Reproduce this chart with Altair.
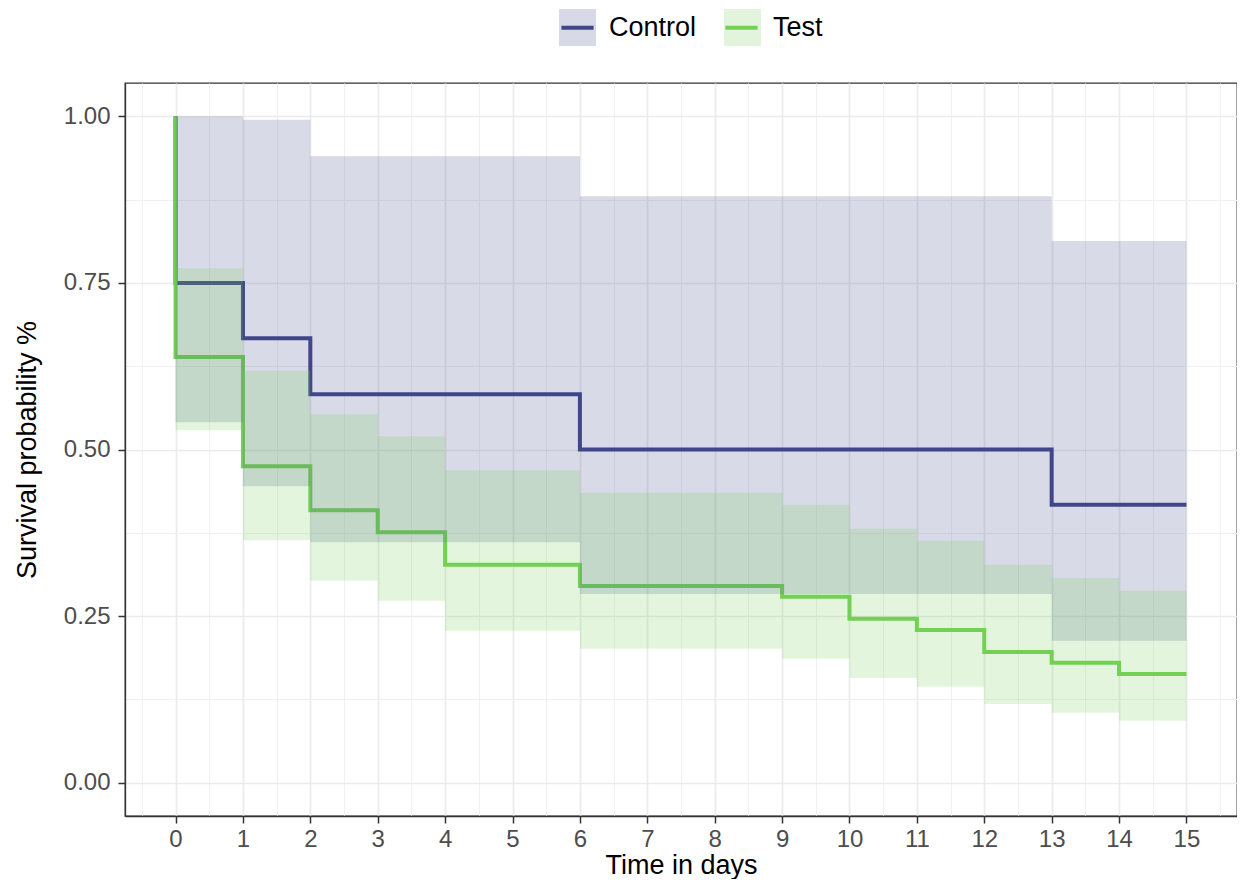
import altair as alt
import pandas as pd

# ---- data ----
groups = ["Control", "Test"]
colors = ["#404788", "#73D055"]

ctrl_time = [0, 0, 1, 2, 6, 13, 15]
ctrl_surv = [1.0, 0.75, 0.667, 0.583, 0.5, 0.417, 0.417]

test_time = [0, 0, 1, 2, 3, 4, 6, 9, 10, 11, 12, 13, 14, 15]
test_surv = [1.0, 0.639, 0.475, 0.409, 0.376, 0.327, 0.295, 0.279, 0.246,
             0.229, 0.196, 0.180, 0.163, 0.163]

ctrl_band_time = [0, 1, 2, 6, 13, 15]
ctrl_upper = [1.0, 0.995, 0.940, 0.880, 0.813, 0.813]
ctrl_lower = [0.541, 0.445, 0.361, 0.283, 0.213, 0.213]

test_band_time = [0, 1, 2, 3, 4, 6, 9, 10, 11, 12, 13, 14, 15]
test_upper = [0.772, 0.618, 0.553, 0.520, 0.469, 0.435, 0.417, 0.381, 0.363,
              0.327, 0.307, 0.288, 0.288]
test_lower = [0.529, 0.364, 0.303, 0.273, 0.228, 0.201, 0.186, 0.157, 0.144,
              0.118, 0.105, 0.093, 0.093]

x_values = [i / 2 for i in range(-1, 32)]   # major at integers, minor at halves
y_values = [i / 8 for i in range(0, 9)]     # major at quarters, minor at eighths

# ---- tables ----
line_rows = []
for g, ts, ss in [("Control", ctrl_time, ctrl_surv), ("Test", test_time, test_surv)]:
    for i, (t, s) in enumerate(zip(ts, ss)):
        line_rows.append({"group": g, "time": t, "surv": s, "idx": i})
lines_df = pd.DataFrame(line_rows)

band_rows = []
for g, ts, up, lo in [("Control", ctrl_band_time, ctrl_upper, ctrl_lower),
                      ("Test", test_band_time, test_upper, test_lower)]:
    for t, u, l in zip(ts, up, lo):
        band_rows.append({"band": g, "time": t, "upper": u, "lower": l})
bands_df = pd.DataFrame(band_rows)

FONT = "Liberation Sans"
LABEL_SIZE = 27
CONTROL_W = 3.223 * LABEL_SIZE   # advance width of "Control" in Liberation Sans

x_scale = alt.Scale(domain=[-0.75, 15.75], nice=False, zero=False)
y_scale = alt.Scale(domain=[-0.05, 1.05], nice=False, zero=False)

x_axis = alt.Axis(
    values=x_values,
    title="Time in days",
    labelExpr="datum.value % 1 === 0 ? format(datum.value, 'd') : ''",
    labelOverlap=False, labelFlush=False,
    labelFont=FONT, labelFontSize=24, labelColor="#4D4D4D", labelPadding=4,
    titleFont=FONT, titleFontSize=27, titleColor="black", titleFontWeight="normal",
    titleX=556, titleY=57, titleBaseline="alphabetic", titleAlign="center",
    tickSize=7, tickWidth=1.5,
    tickColor={"condition": {"test": "datum.value % 1 !== 0", "value": "transparent"}, "value": "#333333"},
    grid=True,
    gridColor={"condition": {"test": "datum.value % 1 !== 0", "value": "#F0F0F0"}, "value": "#EBEBEB"},
    gridWidth={"condition": {"test": "datum.value % 1 !== 0", "value": 1.0}, "value": 1.7},
    domain=True, domainColor="#333333", domainWidth=1.3,
)

y_axis = alt.Axis(
    values=y_values,
    title="Survival probability %",
    labelExpr="(datum.value * 4) % 1 === 0 ? format(datum.value, '.2f') : ''",
    labelOverlap=False, labelFlush=False,
    labelFont=FONT, labelFontSize=24, labelColor="#4D4D4D", labelPadding=8,
    titleFont=FONT, titleFontSize=27, titleColor="black", titleFontWeight="normal",
    titleX=-90, titleY=366.5, titleAngle=-90, titleBaseline="alphabetic", titleAlign="center",
    tickSize=7, tickWidth=1.5,
    tickColor={"condition": {"test": "(datum.value * 4) % 1 !== 0", "value": "transparent"}, "value": "#333333"},
    grid=True,
    gridColor={"condition": {"test": "(datum.value * 4) % 1 !== 0", "value": "#F0F0F0"}, "value": "#EBEBEB"},
    gridWidth={"condition": {"test": "(datum.value * 4) % 1 !== 0", "value": 1.0}, "value": 1.7},
    domain=True, domainColor="#333333", domainWidth=1.3,
)

legend_common = dict(
    orient="none", legendX=432, legendY=-76, direction="horizontal",
    title=None, padding=0, symbolSize=1369, symbolStrokeWidth=4,
    labelFont=FONT, labelFontSize=LABEL_SIZE, labelColor="black",
    labelOffset=11,
)

lines = alt.Chart(lines_df).mark_line(
    interpolate="step-after", strokeWidth=4
).encode(
    x=alt.X("time:Q", scale=x_scale, axis=x_axis),
    y=alt.Y("surv:Q", scale=y_scale, axis=y_axis),
    stroke=alt.Stroke("group:N", scale=alt.Scale(domain=groups, range=colors),
                      legend=alt.Legend(symbolType="M-0.87,0H0.87",
                                        columnPadding=20,
                                        **legend_common)),
    order=alt.Order("idx:Q"),
)

bands = alt.Chart(bands_df).mark_area(
    interpolate="step-after", fillOpacity=0.2, strokeOpacity=0
).encode(
    x=alt.X("time:Q", scale=x_scale, axis=x_axis),
    y=alt.Y("upper:Q", scale=y_scale, axis=y_axis, stack=None),
    y2="lower:Q",
    fill=alt.Fill("band:N", scale=alt.Scale(range=colors),
                  legend=alt.Legend(symbolType="square", symbolOpacity=0.2,
                                    symbolStrokeColor="transparent",
                                    labelExpr="''",
                                    columnPadding=20 + CONTROL_W,
                                    **legend_common)),
)

chart = alt.layer(lines, bands).properties(
    width=1112, height=733,
    padding={"left": 117, "top": 75, "right": 0, "bottom": 63},
    autosize=alt.AutoSizeParams(type="none"),
    view=alt.ViewBackground(stroke="#333333", strokeWidth=1.3, strokeOpacity=1),
).configure_view(
    stroke="#333333", strokeWidth=1.3
).configure(background="white")

chart.save("out.html", embed_options={"renderer": "svg", "actions": False})
